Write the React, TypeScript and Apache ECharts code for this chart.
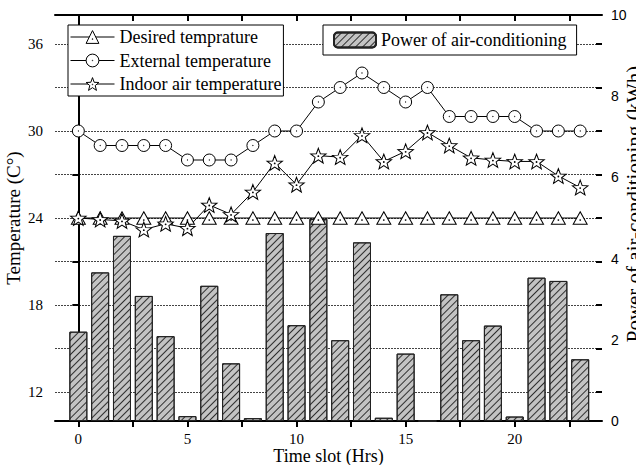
import React, { useEffect, useRef } from "react";
import * as echarts from "echarts";

const hours = [0, 1, 2, 3, 4, 5, 6, 7, 8, 9, 10, 11, 12, 13, 14, 15, 16, 17, 18, 19, 20, 21, 22, 23];
const powerKWh = [2.2, 3.66, 4.56, 3.08, 2.09, 0.12, 3.33, 1.42, 0.07, 4.63, 2.36, 4.98, 1.99, 4.4, 0.08, 1.66, 0, 3.12, 1.99, 2.35, 0.11, 3.53, 3.45, 1.52];
const desiredTemp = [24, 24, 24, 24, 24, 24, 24, 24, 24, 24, 24, 24, 24, 24, 24, 24, 24, 24, 24, 24, 24, 24, 24, 24];
const externalTemp = [30, 29, 29, 29, 29, 28, 28, 28, 29, 30, 30, 32, 33, 34, 33, 32, 33, 31, 31, 31, 31, 30, 30, 30];
const indoorTemp = [24.0, 23.9, 23.8, 23.2, 23.6, 23.3, 24.9, 24.25, 25.8, 27.8, 26.3, 28.3, 28.2, 29.7, 27.9, 28.6, 29.9, 29.0, 28.15, 28.0, 27.9, 27.9, 26.9, 26.1];

const xTickValues = [0, 2.5, 5, 7.5, 10, 12.5, 15, 17.5, 20, 22.5];
const xLabelValues = [0, 5, 10, 15, 20];
const tempTickValues = [12, 15, 18, 21, 24, 27, 30, 33, 36];
const tempLabelValues = [12, 18, 24, 30, 36];

const SERIF = "'Liberation Serif', 'Times New Roman', serif";
const SANS = "'Liberation Sans', Arial, sans-serif";

const dot = (cx: number, cy: number, r: number) =>
  `M${cx + r},${cy} A${r},${r} 0 1 1 ${cx - r},${cy} A${r},${r} 0 1 1 ${cx + r},${cy} Z`;

const triSymbol = "path://M0,-8 L9.24,8 L-9.24,8 Z " + dot(0, 2.6, 0.5);
const circleSymbol = "path://" + dot(0, 0, 10) + " " + dot(0, 0, 0.45);
const starSymbol =
  "path://M0,-10 L2.469,-3.398 L9.511,-3.09 L3.995,1.298 L5.878,8.09 L0,4.2 L-5.878,8.09 L-3.995,1.298 L-9.511,-3.09 L-2.469,-3.398 Z " +
  dot(0, -0.3, 0.5);

export default function App() {
  const ref = useRef<HTMLDivElement>(null);
  useEffect(() => {
    if (!ref.current) return;
    const chart = echarts.init(ref.current, null, { renderer: "svg" });
    const markerStyle = { color: "#fff", borderColor: "#000", borderWidth: 1 };
    const lineStyle = { color: "#000", width: 1 };
    const option: any = {
      animation: false,
      backgroundColor: "#fff",
      grid: { left: 55, right: 34, top: 15, bottom: 44, containLabel: false, outerBoundsMode: "none" },
      legend: [
        {
          data: ["Desired temprature", "External temperature", "Indoor air temperature"],
          orient: "vertical",
          left: 68,
          top: 25,
          padding: [3, 2, 3, 2],
          itemGap: 5.5,
          itemWidth: 44,
          itemHeight: 16,
          borderColor: "#000",
          borderWidth: 1,
          backgroundColor: "#fff",
          itemStyle: { borderWidth: 1, borderColor: "#000", color: "#fff" },
          lineStyle: { width: 1, color: "#000" },
          textStyle: { fontFamily: SERIF, fontSize: 18, color: "#000", lineHeight: 18 },
        },
        {
          data: ["Power of air-conditioning"],
          left: 323,
          top: 25,
          padding: [6, 10, 6, 10],
          itemWidth: 42,
          itemHeight: 15,
          borderColor: "#000",
          borderWidth: 1,
          backgroundColor: "#fff",
          textStyle: { fontFamily: SERIF, fontSize: 18, color: "#000", lineHeight: 18 },
        },
      ],
      xAxis: [
        {
          type: "value",
          position: "bottom",
          min: -1.07,
          max: 24,
          name: "Time slot (Hrs)",
          nameLocation: "middle",
          nameGap: 26,
          nameMoveOverlap: false,
          nameTextStyle: { fontFamily: SERIF, fontSize: 18, color: "#000", lineHeight: 18 },
          axisLine: { show: true, lineStyle: { color: "#000", width: 2 } },
          axisTick: { show: true, inside: false, length: 6, lineStyle: { color: "#000", width: 2 }, customValues: xTickValues },
          axisLabel: { customValues: xLabelValues, fontFamily: SERIF, fontSize: 15, lineHeight: 15, color: "#000", margin: 10 },
          splitLine: { show: false },
        },
        {
          type: "value",
          position: "top",
          min: -1.07,
          max: 24,
          axisLine: { show: true, lineStyle: { color: "#000", width: 2 } },
          axisTick: { show: true, inside: true, length: 6, lineStyle: { color: "#000", width: 2 }, customValues: xTickValues },
          axisLabel: { show: false },
          splitLine: { show: false },
        },
      ],
      yAxis: [
        {
          type: "value",
          position: "left",
          min: 10,
          max: 38,
          name: "Temperature (C°)",
          nameLocation: "middle",
          nameRotate: 90,
          nameGap: 32,
          nameMoveOverlap: false,
          nameTextStyle: { fontFamily: SERIF, fontSize: 19, color: "#000" },
          axisLine: { show: true, lineStyle: { color: "#000", width: 2 } },
          axisTick: { show: true, inside: false, length: 6, lineStyle: { color: "#000", width: 2 }, customValues: tempTickValues },
          axisLabel: { customValues: tempLabelValues, fontFamily: SERIF, fontSize: 15, color: "#000", margin: 12 },
          splitLine: { show: true, lineStyle: { color: "#444", width: 1, type: [2, 1] } },
        },
        {
          type: "value",
          position: "right",
          min: 0,
          max: 10,
          interval: 2,
          name: "Power of air-conditioning (kWh)",
          nameLocation: "middle",
          nameRotate: 90,
          nameGap: 21,
          nameMoveOverlap: false,
          nameTextStyle: { fontFamily: SERIF, fontSize: 21, color: "#000", padding: [0, 0, 0, 28] },
          axisLine: { show: true, lineStyle: { color: "#000", width: 2 } },
          axisTick: { show: false },
          axisLabel: { fontFamily: SANS, fontSize: 14, color: "#000", margin: 9 },
          splitLine: { show: false },
        },
        {
          type: "value",
          position: "right",
          min: 10,
          max: 38,
          axisLine: { show: false },
          axisTick: { show: true, inside: true, length: 6, lineStyle: { color: "#000", width: 2 }, customValues: tempTickValues },
          axisLabel: { show: false },
          splitLine: { show: false },
        },
      ],
      series: [
        {
          type: "bar",
          name: "Power of air-conditioning",
          xAxisIndex: 0,
          yAxisIndex: 1,
          barWidth: 18,
          data: hours.map((h, i) => [h, powerKWh[i]]),
          itemStyle: {
            color: "#c3c3c3",
            borderColor: "#222",
            borderWidth: 1,
            decal: {
              symbol: "rect",
              symbolSize: 1,
              color: "rgba(20,20,20,0.85)",
              dashArrayX: [1, 0],
              dashArrayY: [1, 4],
              rotation: -Math.PI / 4,
            },
          },
          z: 2,
        },
        {
          type: "line",
          name: "Desired temprature",
          xAxisIndex: 0,
          yAxisIndex: 0,
          data: hours.map((h, i) => [h, desiredTemp[i]]),
          symbol: triSymbol,
          symbolSize: [14, 12.5],
          showAllSymbol: true,
          itemStyle: markerStyle,
          lineStyle,
          z: 3,
        },
        {
          type: "line",
          name: "External temperature",
          xAxisIndex: 0,
          yAxisIndex: 0,
          data: hours.map((h, i) => [h, externalTemp[i]]),
          symbol: circleSymbol,
          symbolSize: 12,
          showAllSymbol: true,
          itemStyle: markerStyle,
          lineStyle,
          z: 3,
        },
        {
          type: "line",
          name: "Indoor air temperature",
          xAxisIndex: 0,
          yAxisIndex: 0,
          data: hours.map((h, i) => [h, indoorTemp[i]]),
          symbol: starSymbol,
          symbolSize: [15.5, 14.7],
          showAllSymbol: true,
          itemStyle: markerStyle,
          lineStyle,
          z: 3,
        },
      ],
    };
    chart.setOption(option);
    return () => chart.dispose();
  }, []);
  return <div ref={ref} style={{ width: 636, height: 465, position: "absolute", left: 0, top: 0 }} />;
}
